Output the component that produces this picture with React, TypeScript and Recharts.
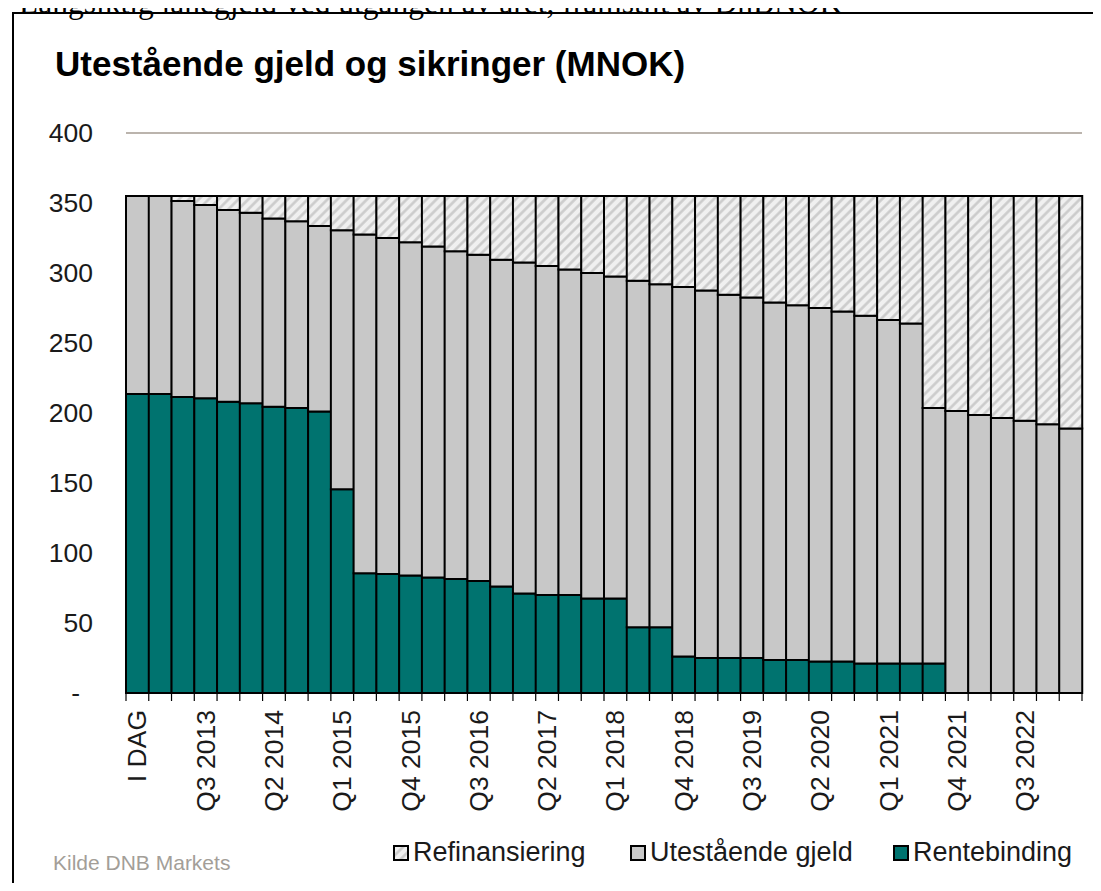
import { BarChart, Bar, XAxis, YAxis, CartesianGrid } from "recharts";

// kvartaler, "I DAG" first
const quarters = [
  "I DAG", "Q1 2013", "Q2 2013", "Q3 2013", "Q4 2013", "Q1 2014", "Q2 2014", "Q3 2014", "Q4 2014",
  "Q1 2015", "Q2 2015", "Q3 2015", "Q4 2015", "Q1 2016", "Q2 2016", "Q3 2016", "Q4 2016",
  "Q1 2017", "Q2 2017", "Q3 2017", "Q4 2017", "Q1 2018", "Q2 2018", "Q3 2018", "Q4 2018",
  "Q1 2019", "Q2 2019", "Q3 2019", "Q4 2019", "Q1 2020", "Q2 2020", "Q3 2020", "Q4 2020",
  "Q1 2021", "Q2 2021", "Q3 2021", "Q4 2021", "Q1 2022", "Q2 2022", "Q3 2022", "Q4 2022", "Q1 2023",
];

// stacked segments, MNOK
const rentebinding = [
  213.5, 213.5, 211.5, 210.5, 208, 207, 204.5, 203.5, 201, 145.5, 85.5, 85, 84, 82.5, 81.5, 80, 76,
  71, 70, 70, 67.5, 67.5, 47, 47, 26, 25, 25, 25, 23.5, 23.5, 22.5, 22.5, 21, 21, 21, 21, 0, 0, 0, 0, 0, 0,
];
const utestaende = [
  141.5, 141.5, 140, 138, 137, 136, 134.5, 133.5, 132.5, 185, 242, 240, 238, 236.5, 234, 233, 233.5,
  236.5, 235, 232.5, 232.5, 230, 247.5, 245, 264, 262.5, 259.5, 257.5, 255.5, 253.5, 252.5, 250, 248.5,
  245.5, 243, 182.5, 201.5, 198.5, 196.5, 194.5, 192, 189,
];
const refinansiering = [
  0, 0, 3.5, 6.5, 10, 12, 16, 18, 21.5, 24.5, 27.5, 30, 33, 36, 39.5, 42, 45.5, 47.5, 50, 52.5, 55,
  57.5, 60.5, 63, 65, 67.5, 70.5, 72.5, 76, 78, 80, 82.5, 85.5, 88.5, 91, 151.5, 153.5, 156.5, 158.5,
  160.5, 163, 166,
];
const yTicks = [0, 50, 100, 150, 200, 250, 300, 350, 400];

const data = quarters.map((q, i) => ({
  q,
  rentebinding: rentebinding[i],
  utestaende: utestaende[i],
  refinansiering: refinansiering[i],
}));

const FONT = '"Liberation Sans", Arial, sans-serif';
const TEAL = "#00736f";
const GREY = "#c8c8c8";
const PLOT_L = 126;
const PLOT_R = 1082;
const BAND = (PLOT_R - PLOT_L) / quarters.length;

function XTick({ x, y, payload, index }: any) {
  const left = x - BAND / 2;
  const ty = y + 17;
  return (
    <g>
      <line x1={left} x2={left} y1={y} y2={y + 8} stroke="#000" strokeWidth={1.2} />
      {index === quarters.length - 1 && (
        <line x1={x + BAND / 2} x2={x + BAND / 2} y1={y} y2={y + 8} stroke="#000" strokeWidth={1.2} />
      )}
      {index % 3 === 0 && (
        <text
          x={x}
          y={ty}
          transform={`rotate(-90 ${x} ${ty})`}
          textAnchor="end"
          dominantBaseline="central"
          fontSize={26.5}
          fontFamily={FONT}
          fill="#1a1a1a"
        >
          {payload.value}
        </text>
      )}
    </g>
  );
}

function YTick({ x, y, payload }: any) {
  const v = payload.value;
  return (
    <text
      x={v === 0 ? x - 46 : x - 33}
      y={y}
      textAnchor="end"
      dominantBaseline="central"
      fontSize={26.5}
      fontFamily={FONT}
      fill="#1a1a1a"
    >
      {v === 0 ? "-" : v}
    </text>
  );
}

function Swatch({ fill }: { fill: string }) {
  return (
    <svg width={16} height={16} style={{ position: "absolute", left: 0, top: 6 }}>
      <rect x={1} y={1} width={14} height={14} fill={fill} stroke="#000" strokeWidth={2} />
    </svg>
  );
}

export default function App() {
  return (
    <div style={{ position: "relative", width: 1101, height: 891, margin: -8, overflow: "hidden", background: "#fff" }}>
      <svg width={0} height={0} style={{ position: "absolute" }}>
        <defs>
          <pattern id="hatch" width={7} height={7} patternUnits="userSpaceOnUse" patternTransform="rotate(45)">
            <rect width={7} height={7} fill="#f0f0f0" />
            <line x1={1.5} y1={0} x2={1.5} y2={7} stroke="#cacaca" strokeWidth={2.5} />
          </pattern>
        </defs>
      </svg>

      <div
        style={{
          position: "absolute", left: 19, top: -13, fontSize: 31.5, lineHeight: "31.5px", whiteSpace: "nowrap",
          fontFamily: '"Liberation Serif", "Times New Roman", serif', color: "#000",
        }}
      >
        Langsiktig lånegjeld ved utgangen av året, framstilt av DnBNOK
      </div>

      <div style={{ position: "absolute", left: 12, top: 12, width: 1089, height: 879, borderLeft: "2px solid #000", borderTop: "2px solid #000" }} />

      <div
        style={{
          position: "absolute", left: 55, top: 46, fontSize: 35, lineHeight: "35px", fontWeight: "bold",
          fontFamily: FONT, color: "#000", whiteSpace: "nowrap",
        }}
      >
        Utestående gjeld og sikringer (MNOK)
      </div>

      <div style={{ position: "absolute", left: 0, top: 0 }}>
        <BarChart
          width={1101}
          height={891}
          data={data}
          margin={{ top: 133, right: 1101 - PLOT_R, bottom: 0, left: 0 }}
          barCategoryGap={0}
          barGap={0}
        >
          <CartesianGrid vertical={false} stroke="#a59b92" strokeWidth={1.5} />
          <XAxis
            dataKey="q"
            interval={0}
            height={198}
            tickSize={0}
            tickMargin={0}
            tickLine={false}
            axisLine={{ stroke: "#000", strokeWidth: 2 }}
            tick={<XTick />}
          />
          <YAxis
            domain={[0, 400]}
            ticks={yTicks}
            interval={0}
            width={PLOT_L}
            tickSize={0}
            tickMargin={0}
            axisLine={false}
            tickLine={false}
            tick={<YTick />}
          />
          <Bar dataKey="rentebinding" name="Rentebinding" stackId="s" fill={TEAL} stroke="#000" strokeWidth={2} isAnimationActive={false} />
          <Bar dataKey="utestaende" name="Utestående gjeld" stackId="s" fill={GREY} stroke="#000" strokeWidth={2} isAnimationActive={false} />
          <Bar dataKey="refinansiering" name="Refinansiering" stackId="s" fill="url(#hatch)" stroke="#000" strokeWidth={2} isAnimationActive={false} />
        </BarChart>
      </div>

      <div style={{ position: "absolute", left: 53, top: 852, fontSize: 21, lineHeight: "21px", fontFamily: FONT, color: "#a39e98", whiteSpace: "nowrap" }}>
        Kilde DNB Markets
      </div>

      {[
        { label: "Refinansiering", left: 393, fill: "url(#hatch)" },
        { label: "Utestående gjeld", left: 630, fill: GREY },
        { label: "Rentebinding", left: 893, fill: TEAL },
      ].map((it) => (
        <div key={it.label} style={{ position: "absolute", left: it.left, top: 839, height: 27, whiteSpace: "nowrap" }}>
          <Swatch fill={it.fill} />
          <span style={{ marginLeft: 20, fontSize: 27, lineHeight: "27px", fontFamily: FONT, color: "#1a1a1a" }}>{it.label}</span>
        </div>
      ))}
    </div>
  );
}
